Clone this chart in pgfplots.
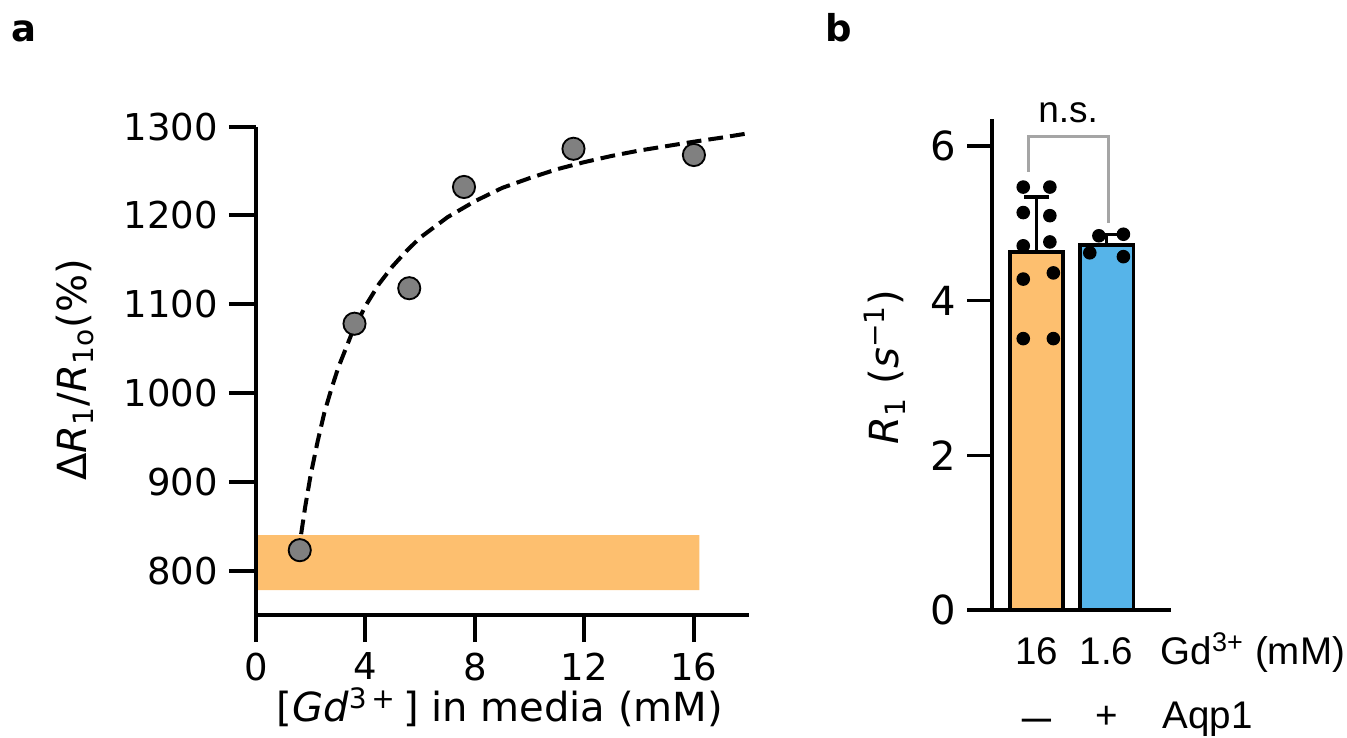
\documentclass[border=0pt]{standalone}
\usepackage{fontspec}
\setmainfont{DejaVu Sans}
\newfontfamily\arial{Liberation Sans}
\usepackage{pgfplots}
\pgfplotsset{compat=1.18}

\definecolor{gdorange}{RGB}{253,191,111}
\definecolor{aqpblue}{RGB}{86,180,233}
\definecolor{ptgray}{RGB}{128,128,128}
\definecolor{nsgray}{RGB}{165,165,165}

% scale: 1 px of the reference = 0.0114 cm
\begin{document}
\begin{tikzpicture}
\path[use as bounding box] (0,0) rectangle (15.356cm,8.402cm);

\node[anchor=base west, inner sep=0pt, font=\fontsize{12}{14}\selectfont\bfseries] at (0.12cm,7.934cm) {a};
\node[anchor=base west, inner sep=0pt, font=\fontsize{12}{14}\selectfont\bfseries] at (9.40cm,7.934cm) {b};

% ---------- panel a ----------
\begin{axis}[
  at={(2.918cm,1.391cm)}, anchor=south west,
  scale only axis, width=5.617cm, height=5.568cm,
  xmin=0, xmax=18, ymin=750, ymax=1300,
  axis x line*=bottom, axis y line*=left,
  axis line style={line width=1.3pt, -},
  tick style={black, line width=1.3pt},
  tick align=outside, major tick length=0.308cm,
  xtick={0,4,8,12,16}, ytick={800,900,1000,1100,1200,1300},
  tick label style={font=\fontsize{12}{14}\selectfont},
  /pgf/number format/assume math mode=true,
  /pgf/number format/1000 sep={},
  xlabel={[\textit{Gd}\textsuperscript{3\,+}\,] in media (mM)},
  ylabel={Δ\textit{R}\textsubscript{1}/\textit{R}\textsubscript{1o}(\%)},
  label style={font=\fontsize{13}{15}\selectfont},
  xlabel style={at={(axis description cs:0.495,-0.219)}, anchor=base},
  ylabel style={at={(axis description cs:-0.367,0.502)}, anchor=center},
  clip=false, axis on top,
]
\addplot[draw=none, fill=gdorange] coordinates {
  (0,778) (16.2,778) (16.2,840) (0,840) (0,778)};

\addplot[black, line width=1.3pt, dash pattern=on 4.8pt off 2.3pt] coordinates {
  (1.65,841) (1.8,872) (2.0,908) (2.25,945) (2.5,978) (2.75,1004)
  (3.0,1028) (3.5,1067) (4,1098) (4.5,1123) (5,1143) (5.5,1160)
  (6,1175) (7,1198) (8,1216) (9,1231) (10,1242) (11,1252)
  (12,1260) (13,1267) (14,1273) (15,1278) (16,1283) (17,1287.5)
  (17.9,1292)};

\addplot[only marks, mark=*, mark size=3.6pt,
  mark options={fill=ptgray, draw=black, line width=0.6pt}] coordinates {
  (1.6,823) (3.6,1078) (5.6,1118) (7.6,1232) (11.6,1275) (16,1268)};
\end{axis}

% ---------- panel b ----------
\begin{axis}[
  at={(11.309cm,1.448cm)}, anchor=south west,
  scale only axis, width=2.041cm, height=5.597cm,
  xmin=-0.636, xmax=1.92, ymin=0, ymax=6.35,
  axis x line*=bottom, axis y line*=left,
  axis line style={line width=1.1pt, -},
  tick style={black, line width=1.1pt},
  tick align=outside, major tick length=0.285cm,
  xtick={0,1}, xticklabels={16,1.6},
  x tick style={draw=none},
  xticklabel style={font=\arial\fontsize{12.5}{15}\selectfont, anchor=base,
    yshift=-0.34cm},
  ytick={0,2,4,6},
  yticklabel style={font=\fontsize{13}{15}\selectfont},
  /pgf/number format/assume math mode=true,
  ylabel={\textit{R}\textsubscript{1} (\textit{s}\textsuperscript{−1})},
  ylabel style={at={(axis description cs:-0.598,0.495)}, anchor=center,
    font=\fontsize{13}{15}\selectfont},
  clip=false, axis on top,
]
\addplot[draw=none, mark=none, error bars/.cd, y dir=plus, y explicit,
  error bar style={draw=black, line width=1.1pt},
  error mark options={draw=black, line width=1.1pt, mark size=4pt, rotate=90}]
  coordinates {(0,4.63) +- (0,0.71) (1,4.72) +- (0,0.14)};

\addplot[ybar, bar width=0.76, bar shift=0, fill=gdorange, draw=black, line width=1.1pt]
  coordinates {(0,4.63)};
\addplot[ybar, bar width=0.76, bar shift=0, fill=aqpblue, draw=black, line width=1.1pt]
  coordinates {(1,4.72)};

\addplot[only marks, mark=*, mark size=2pt, black] coordinates {
  (-0.19,5.47) (0.19,5.47) (-0.19,5.14) (0.19,5.10) (-0.19,4.71)
  (0.19,4.76) (-0.19,4.28) (0.24,4.36) (-0.19,3.51) (0.24,3.51)};
\addplot[only marks, mark=*, mark size=2pt, black] coordinates {
  (0.89,4.84) (1.24,4.86) (0.76,4.62) (1.24,4.57)};

\addplot[nsgray, line width=1pt] coordinates {
  (-0.11,5.67) (-0.11,6.12) (1.03,6.12) (1.03,5.01)};
\node[anchor=base, font=\arial\fontsize{12}{14}\selectfont] at (axis cs:0.45,6.30) {n.s.};

\node[anchor=base west, inner sep=0pt, font=\arial\fontsize{12.5}{15}\selectfont] at (axis cs:1.764,-0.71) {Gd\textsuperscript{3+} (mM)};
\node[anchor=base, inner sep=0pt, font=\arial\bfseries\fontsize{9.5}{12}\selectfont] at (axis cs:0.0,-1.53) {—};
\node[anchor=base, inner sep=0pt, font=\arial\fontsize{12.5}{15}\selectfont] at (axis cs:1.0,-1.53) {+};
\node[anchor=base west, inner sep=0pt, font=\arial\fontsize{12.5}{15}\selectfont] at (axis cs:1.79,-1.53) {Aqp1};
\end{axis}
\end{tikzpicture}
\end{document}
